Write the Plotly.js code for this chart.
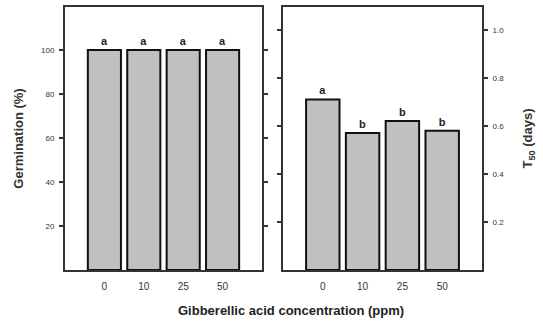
<!DOCTYPE html>
<html><head><meta charset="utf-8">
<script src="https://cdn.plot.ly/plotly-3.0.1.min.js"></script>
<style>html,body{margin:0;padding:0;background:#fff}#c{width:543px;height:323px}</style>
</head><body><div id="c"></div>
<script>
const categories = ['0', '10', '25', '50'];
const germination = [100, 100, 100, 100];
const germLetters = ['a', 'a', 'a', 'a'];
const t50 = [0.71, 0.57, 0.62, 0.58];
const t50Letters = ['a', 'b', 'b', 'b'];
const germTicks = [20, 40, 60, 80, 100];
const t50Ticks = [0.2, 0.4, 0.6, 0.8, 1.0];

const barStyle = {color: '#c0c0c0', line: {color: '#111', width: 2}};
const txtFont = {family: 'Liberation Sans, Arial, sans-serif', size: 11, color: '#222', weight: 'bold'};

const traces = [
  {type: 'bar', x: categories, y: germination, text: germLetters, textposition: 'outside',
   textfont: txtFont, marker: barStyle, width: 0.84, xaxis: 'x', yaxis: 'y', cliponaxis: false, hoverinfo: 'none'},
  {type: 'bar', x: categories, y: t50, text: t50Letters, textposition: 'outside',
   textfont: txtFont, marker: barStyle, width: 0.84, xaxis: 'x2', yaxis: 'y2', cliponaxis: false, hoverinfo: 'none'}
];

const tickFont = {family: 'Liberation Sans, Arial, sans-serif', size: 8, color: '#334'};
const xBase = {type: 'category', range: [-1, 4], showline: true, linecolor: '#333', linewidth: 2,
  mirror: true, ticks: '', ticklabelstandoff: 6,
  tickfont: {family: 'Liberation Sans, Arial, sans-serif', size: 10, color: '#334'},
  showgrid: false, zeroline: false, fixedrange: true};
const yDom = [53/323, 316/323];

const layout = {
  width: 543, height: 323, margin: {l: 0, r: 0, t: 0, b: 0},
  paper_bgcolor: '#fff', plot_bgcolor: '#fff', showlegend: false,
  xaxis: Object.assign({}, xBase, {domain: [65/543, 262/543], anchor: 'y'}),
  xaxis2: Object.assign({}, xBase, {domain: [283/543, 482/543], anchor: 'y2'}),
  yaxis: {domain: yDom, anchor: 'x', range: [0, 119.5], tickvals: germTicks, ticktext: germTicks.map(String),
    ticks: 'outside', ticklen: 4, tickwidth: 1.5, tickcolor: '#333', showline: true, linecolor: '#333', linewidth: 2,
    mirror: 'ticks', showgrid: false, zeroline: false, tickfont: tickFont, ticklabelstandoff: 3,
    title: {text: 'Germination (%)', standoff: 14,
      font: {family: 'Liberation Sans, Arial, sans-serif', size: 13, color: '#333', weight: 'bold'}}},
  yaxis2: {domain: yDom, anchor: 'x2', side: 'right', range: [0, 1.095], tickvals: t50Ticks,
    ticktext: t50Ticks.map(v => v.toFixed(1)),
    ticks: 'outside', ticklen: 4, tickwidth: 1.5, tickcolor: '#333', showline: true, linecolor: '#333', linewidth: 2,
    mirror: 'ticks', showgrid: false, zeroline: false, tickfont: tickFont, ticklabelstandoff: 3,
    title: {text: 'T<sub>50</sub> (days)', standoff: 20,
      font: {family: 'Liberation Sans, Arial, sans-serif', size: 13, color: '#333', weight: 'bold'}}},
  annotations: [{text: 'Gibberellic acid concentration (ppm)', xref: 'paper', yref: 'paper',
    x: 291/543, y: (323-310)/323, xanchor: 'center', yanchor: 'middle', showarrow: false,
    font: {family: 'Liberation Sans, Arial, sans-serif', size: 13, color: '#222', weight: 'bold'}}]
};

Plotly.newPlot('c', traces, layout, {staticPlot: true, displayModeBar: false});
</script></body></html>
